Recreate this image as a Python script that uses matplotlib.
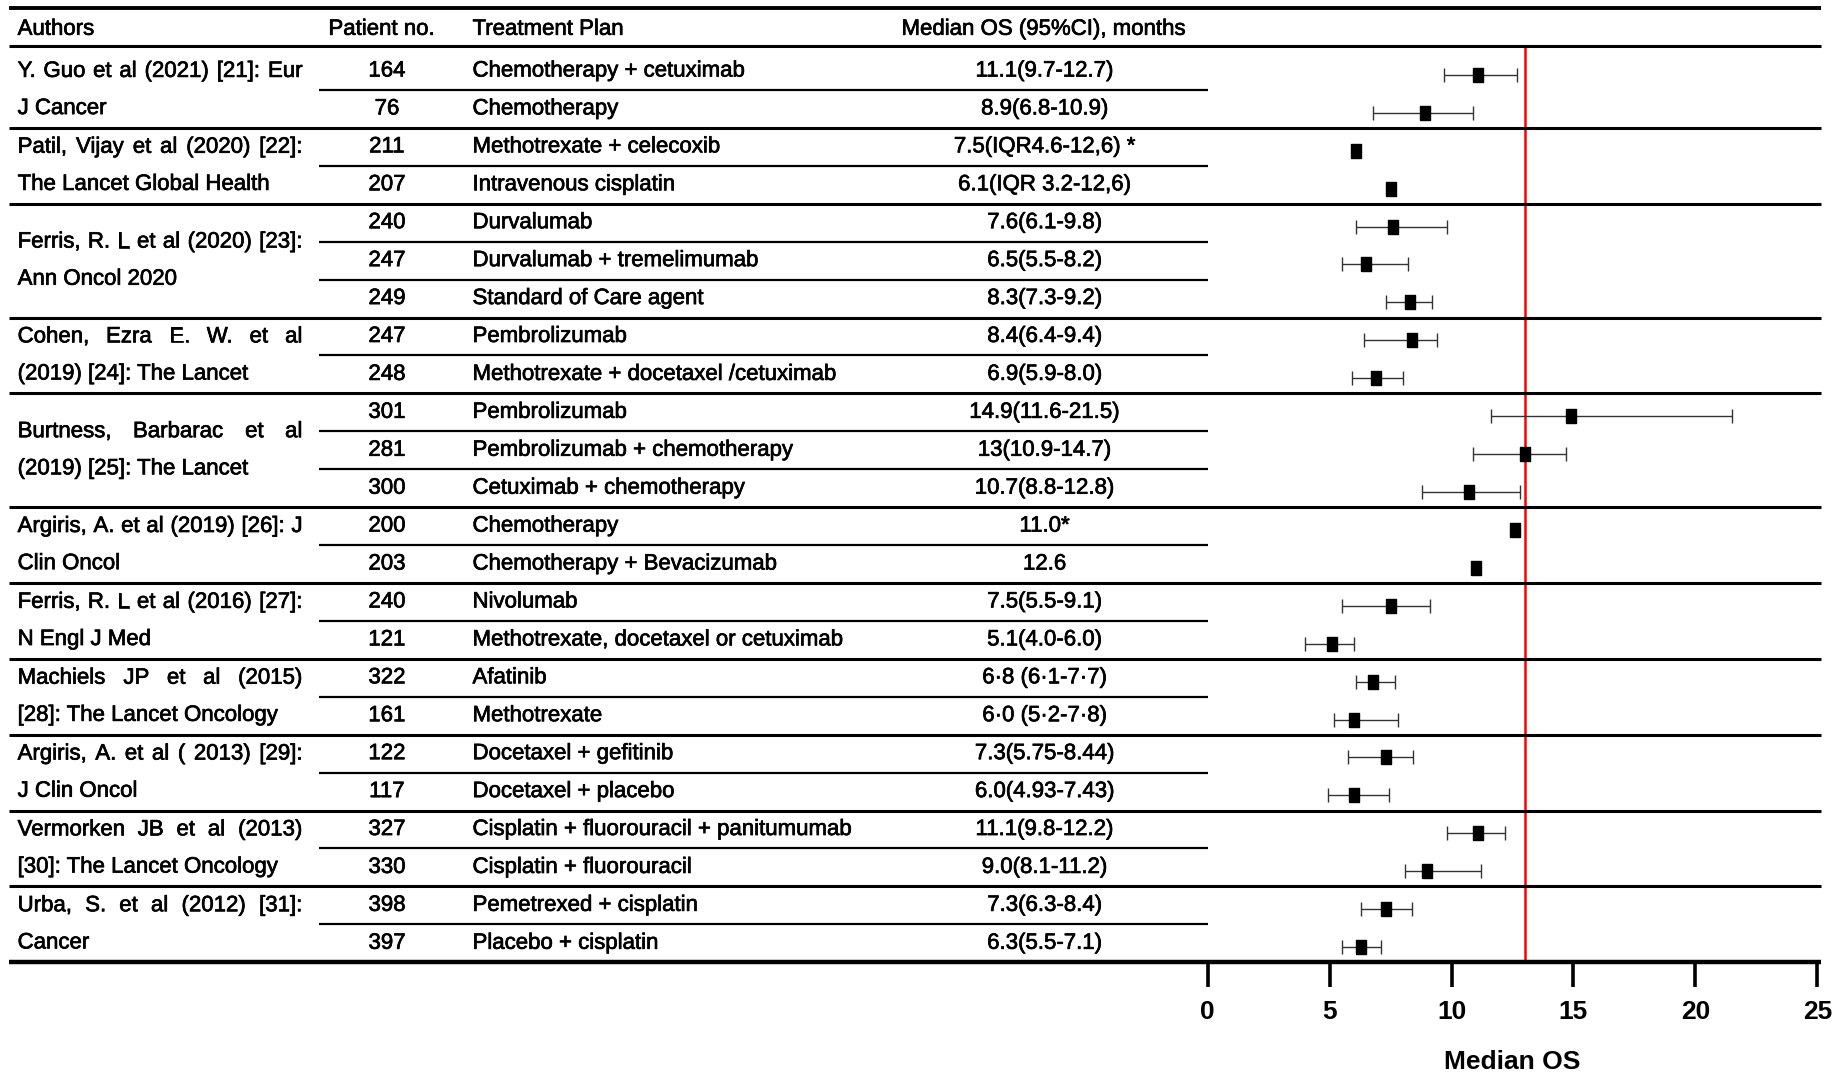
import matplotlib
matplotlib.use("Agg")
import matplotlib.pyplot as plt
import matplotlib.transforms as mtransforms
import matplotlib.patheffects as pe
import numpy as np

# ---- data ----
authors = [
    ("Y. Guo et al (2021) [21]: Eur", "J Cancer"),
    ("Patil, Vijay et al (2020) [22]:", "The Lancet Global Health"),
    ("Ferris, R. L et al (2020) [23]:", "Ann Oncol 2020"),
    ("Cohen, Ezra E. W. et al", "(2019) [24]: The Lancet"),
    ("Burtness, Barbarac et al", "(2019) [25]: The Lancet"),
    ("Argiris, A. et al (2019) [26]: J", "Clin Oncol"),
    ("Ferris, R. L et al (2016) [27]:", "N Engl J Med"),
    ("Machiels JP et al (2015)", "[28]: The Lancet Oncology"),
    ("Argiris, A. et al ( 2013) [29]:", "J Clin Oncol"),
    ("Vermorken JB et al (2013)", "[30]: The Lancet Oncology"),
    ("Urba, S. et al (2012) [31]:", "Cancer"),
]
group_sizes = [2, 2, 3, 2, 3, 2, 2, 2, 2, 2, 2]

patients = [164, 76, 211, 207, 240, 247, 249, 247, 248, 301, 281, 300,
            200, 203, 240, 121, 322, 161, 122, 117, 327, 330, 398, 397]

treatments = [
    "Chemotherapy + cetuximab", "Chemotherapy",
    "Methotrexate + celecoxib", "Intravenous cisplatin",
    "Durvalumab", "Durvalumab + tremelimumab", "Standard of Care agent",
    "Pembrolizumab", "Methotrexate + docetaxel /cetuximab",
    "Pembrolizumab", "Pembrolizumab + chemotherapy", "Cetuximab + chemotherapy",
    "Chemotherapy", "Chemotherapy + Bevacizumab",
    "Nivolumab", "Methotrexate, docetaxel or cetuximab",
    "Afatinib", "Methotrexate",
    "Docetaxel + gefitinib", "Docetaxel + placebo",
    "Cisplatin + fluorouracil + panitumumab", "Cisplatin + fluorouracil",
    "Pemetrexed + cisplatin", "Placebo + cisplatin",
]

os_text = [
    "11.1(9.7-12.7)", "8.9(6.8-10.9)",
    "7.5(IQR4.6-12,6) *", "6.1(IQR 3.2-12,6)",
    "7.6(6.1-9.8)", "6.5(5.5-8.2)", "8.3(7.3-9.2)",
    "8.4(6.4-9.4)", "6.9(5.9-8.0)",
    "14.9(11.6-21.5)", "13(10.9-14.7)", "10.7(8.8-12.8)",
    "11.0*", "12.6",
    "7.5(5.5-9.1)", "5.1(4.0-6.0)",
    "6\u00b78 (6\u00b71-7\u00b77)", "6\u00b70 (5\u00b72-7\u00b78)",
    "7.3(5.75-8.44)", "6.0(4.93-7.43)",
    "11.1(9.8-12.2)", "9.0(8.1-11.2)",
    "7.3(6.3-8.4)", "6.3(5.5-7.1)",
]

# positions of the plotted squares / whiskers as drawn
os_median = [11.1, 8.9, 6.1, 7.5, 7.6, 6.5, 8.3, 8.4, 6.9, 14.9, 13.0, 10.7,
             12.6, 11.0, 7.5, 5.1, 6.8, 6.0, 7.3, 6.0, 11.1, 9.0, 7.3, 6.3]
ci_low = [9.7, 6.8, None, None, 6.1, 5.5, 7.3, 6.4, 5.9, 11.6, 10.9, 8.8,
          None, None, 5.5, 4.0, 6.1, 5.2, 5.75, 4.93, 9.8, 8.1, 6.3, 5.5]
ci_high = [12.7, 10.9, None, None, 9.8, 8.2, 9.2, 9.4, 8.0, 21.5, 14.7, 12.8,
           None, None, 9.1, 6.0, 7.7, 7.8, 8.44, 7.43, 12.2, 11.2, 8.4, 7.1]

ref_line = 13
x_ticks = [0, 5, 10, 15, 20, 25]

FS = 16
# the source text is a little heavier than plain Arial
HEAVY = [pe.withStroke(linewidth=0.5, foreground="black")]

plt.rcParams['font.family'] = ['Liberation Sans', 'DejaVu Sans']

fig = plt.figure(figsize=(18.35, 10.76), dpi=100)
ax = fig.add_axes([0.6581, 0.1057, 0.3323, 0.8518])
n = len(patients)
rows = np.arange(n)
ax.set_xlim(0, 25)
ax.set_ylim(n - 0.5, -0.667)

trans = mtransforms.blended_transform_factory(fig.transFigure, ax.transData)


def hline(y, x0, x1, lw):
    ax.plot([x0, x1], [y, y], transform=trans, color="black", lw=lw,
            clip_on=False, solid_capstyle="butt")


def put(x, y, s, ha="left", **kw):
    return ax.text(x, y, s, transform=trans, ha=ha, va="center",
                   fontsize=FS, clip_on=False, path_effects=HEAVY, **kw)


# column positions (figure fraction)
X_LEFT, X_RIGHT = 0.0051, 0.9923
X_AUTH, X_AUTH_END = 0.0096, 0.1649
X_PAT, X_TREAT, X_OS = 0.2109, 0.2575, 0.5693
X_INNER0, X_INNER1 = 0.1738, 0.6581

# header
hline(-1.66, X_LEFT, X_RIGHT, 2.8)
hline(-0.667, X_LEFT, X_RIGHT, 2.2)
put(X_AUTH, -1.1, "Authors")
put(0.208, -1.1, "Patient no.", ha="center")
put(X_TREAT, -1.1, "Treatment Plan")
put(0.5687, -1.1, "Median OS (95%CI), months", ha="center")

# table rows
for i in range(n):
    put(X_PAT, i, str(patients[i]), ha="center")
    put(X_TREAT, i, treatments[i])
    put(X_OS, i, os_text[i], ha="center")

# separators and author names
fig.canvas.draw()
renderer = fig.canvas.get_renderer()
fig_w = fig.bbox.width
start = 0
for (line1, line2), size in zip(authors, group_sizes):
    end = start + size
    for b in range(start + 1, end):
        hline(b - 0.5, X_INNER0, X_INNER1, 1.6)
    if end < n:
        hline(end - 0.5, X_LEFT, X_RIGHT, 2.2)
    mid = (start + end - 1) / 2
    # first line justified across the column, second line left aligned
    words = line1.split()
    texts = [put(X_AUTH, mid - 0.49, w) for w in words]
    widths = [t.get_window_extent(renderer).width / fig_w for t in texts]
    gap = (X_AUTH_END - X_AUTH - sum(widths)) / (len(words) - 1)
    x = X_AUTH
    for t, w in zip(texts, widths):
        t.set_x(x)
        x += w + gap
    put(X_AUTH, mid + 0.49, line2)
    start = end

hline(n - 0.5, X_LEFT, X_RIGHT, 3.2)

# forest part
ax.axvline(ref_line, color="red", lw=1.8, zorder=1)
ymark = rows + 0.1
has_ci = [i for i in range(n) if ci_low[i] is not None]
med = np.array(os_median)
lo = np.array([ci_low[i] for i in has_ci])
hi = np.array([ci_high[i] for i in has_ci])
ax.errorbar(med[has_ci], ymark[has_ci], xerr=[med[has_ci] - lo, hi - med[has_ci]],
            fmt="none", ecolor="#333333", elinewidth=1.0, capsize=5, capthick=1.0,
            zorder=2)
box = [(-0.35, -0.5), (0.35, -0.5), (0.35, 0.5), (-0.35, 0.5), (-0.35, -0.5)]
ax.plot(med, ymark, ls="none", marker=box, ms=10, color="black", zorder=3)

ax.set_xticks(x_ticks)
ax.set_yticks([])
ax.tick_params(axis="x", direction="out", length=18, width=2.6, labelsize=19, pad=9)
for lbl in ax.get_xticklabels():
    lbl.set_fontweight("bold")
for side in ["top", "right", "left", "bottom"]:
    ax.spines[side].set_visible(False)
ax.set_xlabel("Median OS", fontsize=19, fontweight="bold", labelpad=19)

fig.savefig("out.png", dpi=100)
